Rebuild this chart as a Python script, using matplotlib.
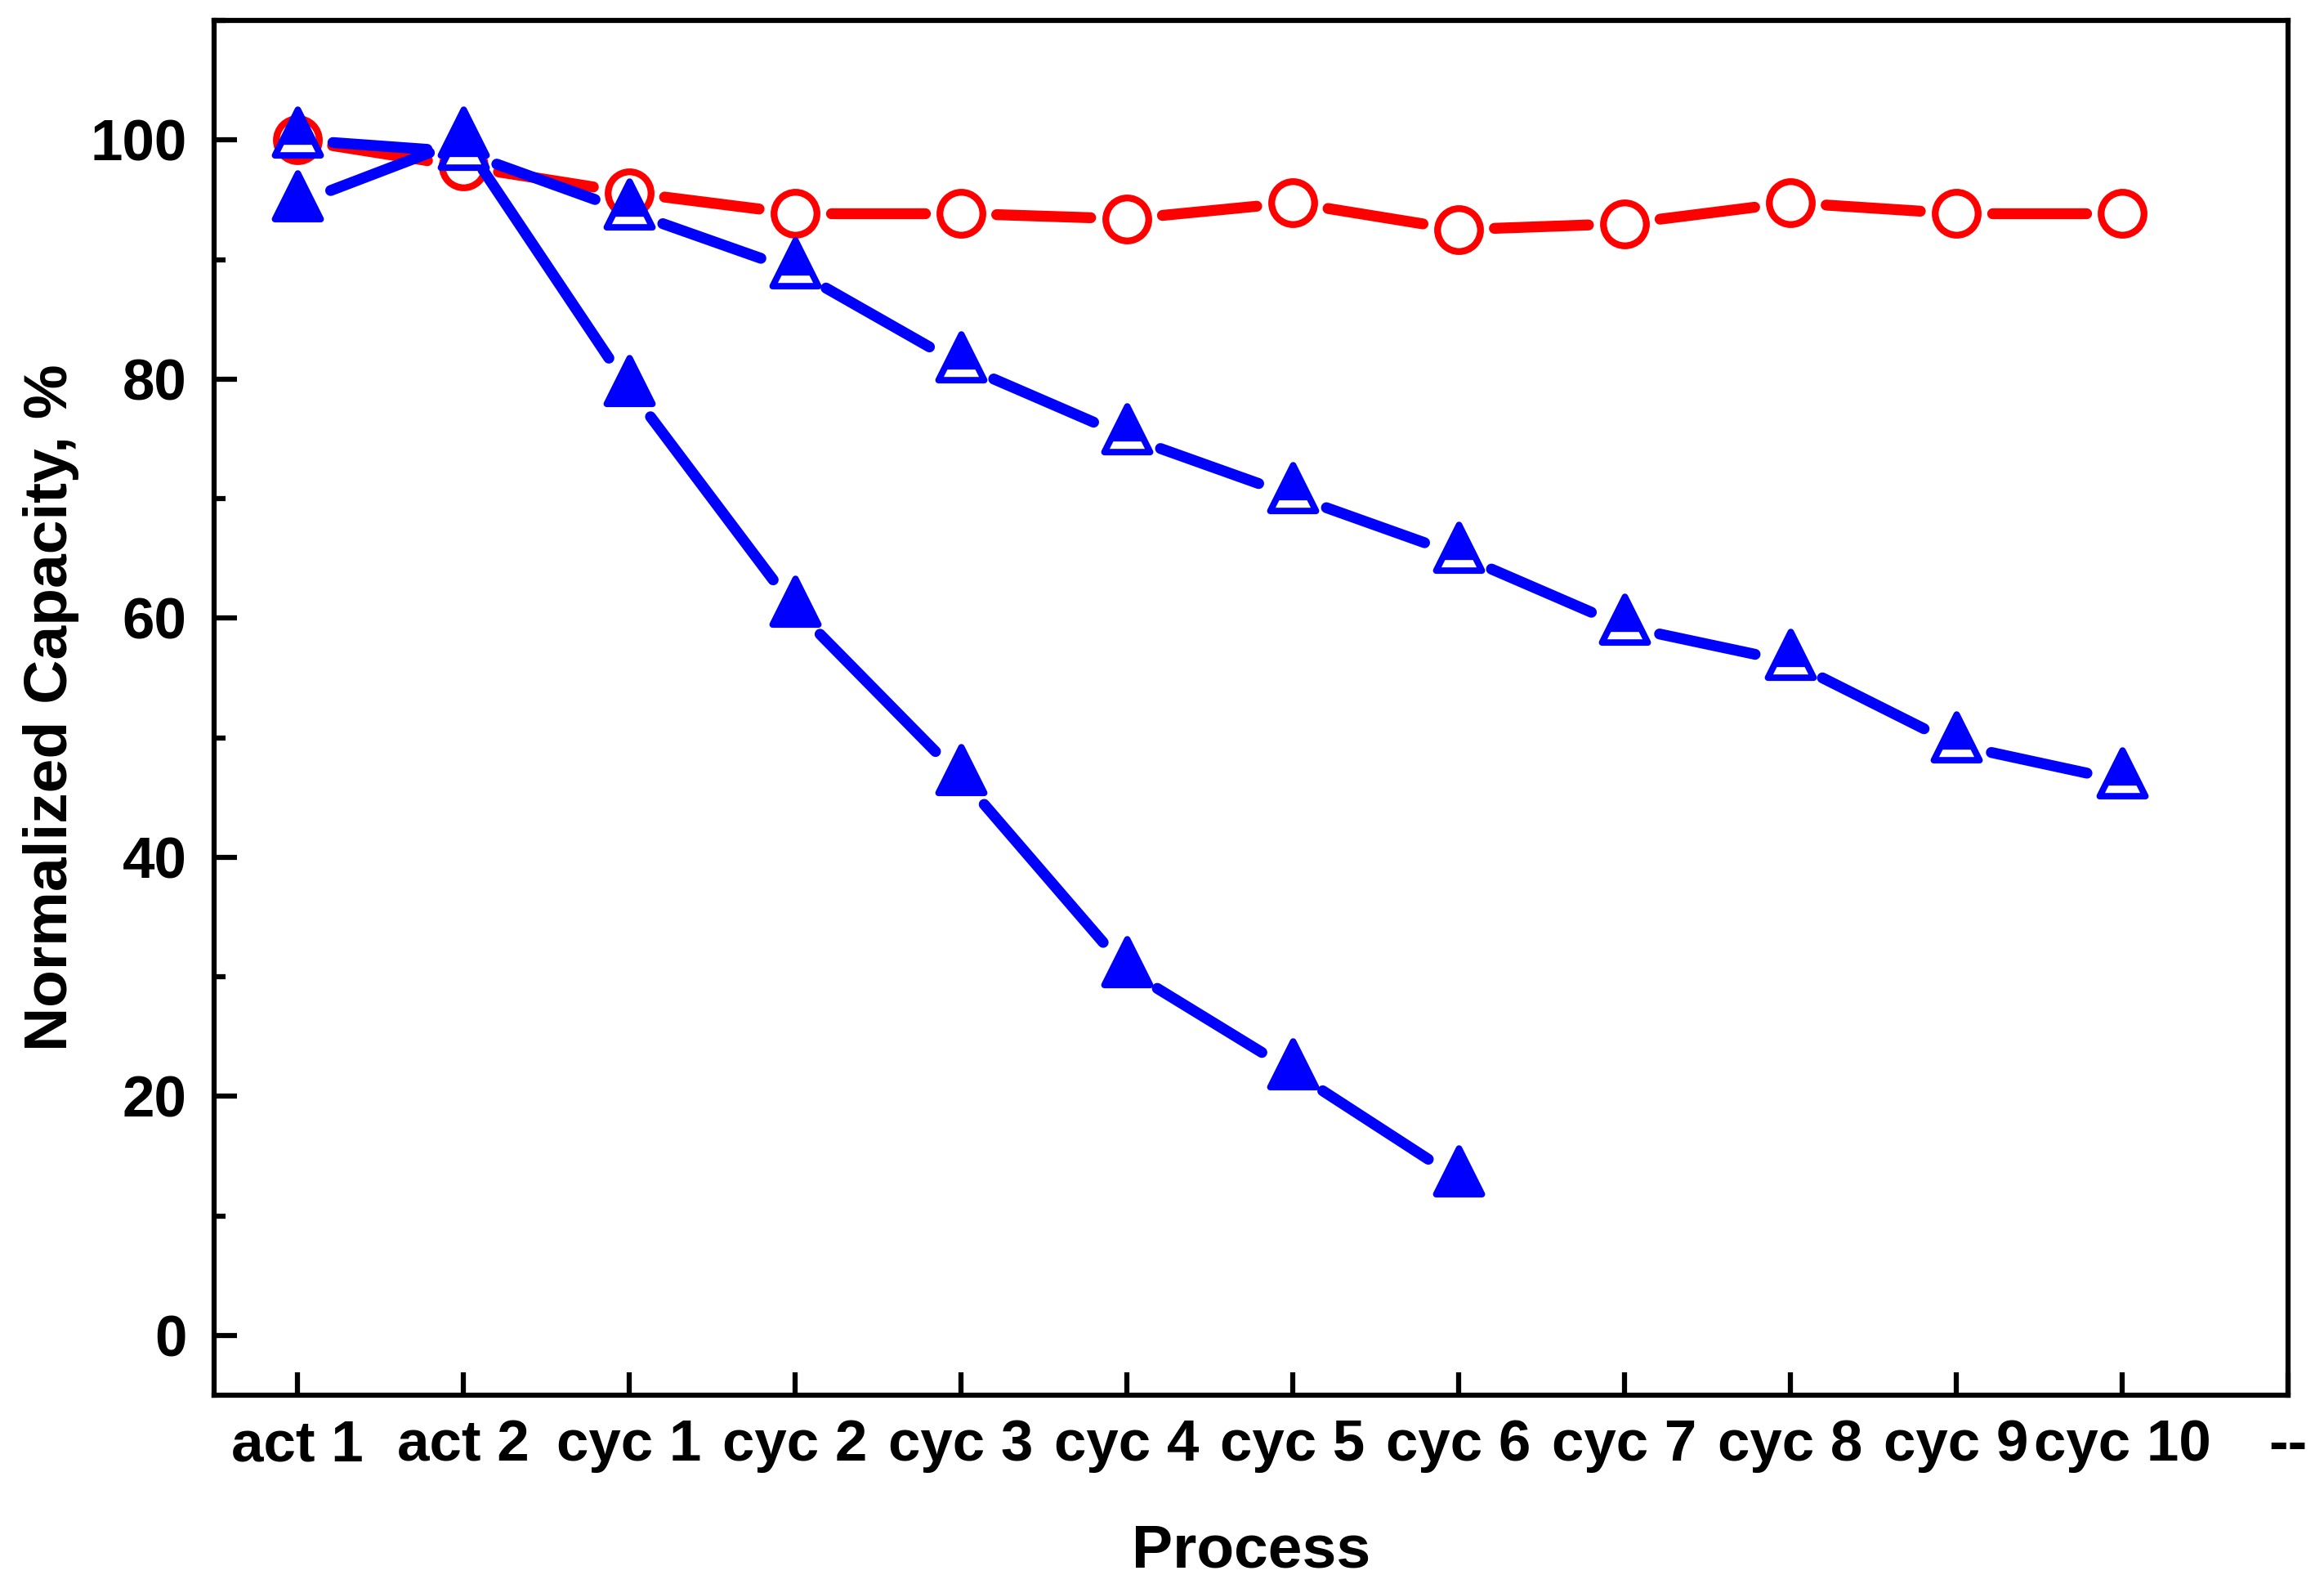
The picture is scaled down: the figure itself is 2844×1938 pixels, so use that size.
import numpy as np
import matplotlib
matplotlib.use("Agg")
import matplotlib.pyplot as plt
from matplotlib.path import Path
from matplotlib.markers import MarkerStyle
from matplotlib.ticker import MultipleLocator

plt.rcParams['font.family'] = ['Liberation Sans', 'DejaVu Sans']
plt.rcParams['font.weight'] = 'bold'

# ---------------- data ----------------
categories = ['act 1', 'act 2', 'cyc 1', 'cyc 2', 'cyc 3', 'cyc 4', 'cyc 5',
              'cyc 6', 'cyc 7', 'cyc 8', 'cyc 9', 'cyc 10', '--']
red_circle = [100, 97.8, 95.6, 93.85, 93.85, 93.4, 94.75, 92.5, 93.0, 94.75, 93.85, 93.85]
blue_half = [100, 99.0, 94.0, 89.1, 81.2, 75.2, 70.25, 65.3, 59.3, 56.35, 49.4, 46.4]
blue_full = [94.7, 100, 79.25, 60.8, 46.7, 30.6, 22.1, 13.1]

W, H, DPI = 2845, 1938, 300
fig = plt.figure(figsize=(W / DPI, H / DPI), dpi=DPI)
L, R, T, B = 262, 2800, 25, 1707
ax = fig.add_axes([L / W, 1 - B / H, (R - L) / W, (B - T) / H])
ax.set_xlim(-0.5, 12)
ax.set_ylim(-5, 110)

RED = '#FF0000'
BLUE = '#0000FF'
LW = 3.2
GAP_PX = 44


def gapped_line(xv, yv, color, z):
    tr = ax.transData
    pts = tr.transform(np.column_stack([xv, yv]))
    inv = tr.inverted()
    for p0, p1 in zip(pts[:-1], pts[1:]):
        v = p1 - p0
        ln = np.hypot(*v)
        if ln <= 2 * GAP_PX:
            continue
        u = v / ln
        a = inv.transform(p0 + u * GAP_PX)
        b = inv.transform(p1 - u * GAP_PX)
        ax.plot([a[0], b[0]], [a[1], b[1]], color=color, lw=LW,
                solid_capstyle='round', zorder=z)


# triangle marker centred at centroid
tri = Path([(0, 2 / 3), (-0.5, -1 / 3), (0.5, -1 / 3), (0, 2 / 3)],
           [Path.MOVETO, Path.LINETO, Path.LINETO, Path.CLOSEPOLY])
f = 0.753
top = Path([(0, 2 / 3), (-0.5 * f, 2 / 3 - f), (0.5 * f, 2 / 3 - f), (0, 2 / 3)],
           [Path.MOVETO, Path.LINETO, Path.LINETO, Path.CLOSEPOLY])
tri_m = MarkerStyle(tri, joinstyle='round')
top_m = MarkerStyle(top, joinstyle='round')
TMS = 17.9
TMEW = 1.9

x_red = np.arange(len(red_circle))
x_half = np.arange(len(blue_half))
x_full = np.arange(len(blue_full))

# red open circles
gapped_line(x_red, red_circle, RED, 2)
ax.plot(x_red, red_circle, ls='none', marker='o', ms=12.6, mew=2.0,
        mfc='white', mec=RED, zorder=3)

# blue filled triangles
gapped_line(x_full, blue_full, BLUE, 4)
ax.plot(x_full, blue_full, ls='none', marker=tri_m, ms=TMS, mew=TMEW,
        mfc=BLUE, mec=BLUE, zorder=5)

# blue half-filled triangles
gapped_line(x_half, blue_half, BLUE, 6)
ax.plot(x_half, blue_half, ls='none', marker=tri_m, ms=TMS, mew=TMEW,
        mfc='white', mec=BLUE, zorder=7)
ax.plot(x_half, blue_half, ls='none', marker=top_m, ms=TMS, mew=0.4,
        mfc=BLUE, mec=BLUE, zorder=8)

# axes styling
for s in ax.spines.values():
    s.set_linewidth(1.5)
ax.set_xticks(np.arange(len(categories)))
ax.set_xticklabels(categories)
ax.yaxis.set_major_locator(MultipleLocator(20))
ax.yaxis.set_minor_locator(MultipleLocator(10))
ax.set_yticks([0, 20, 40, 60, 80, 100])
ax.tick_params(axis='both', which='major', direction='in', length=6.8,
               width=1.5, labelsize=17, top=False, right=False)
ax.tick_params(axis='y', which='minor', direction='in', length=3.4,
               width=1.5, right=False)
ax.tick_params(axis='x', which='minor', bottom=False, top=False)
ax.tick_params(axis='y', which='major', pad=8)
ax.tick_params(axis='x', which='major', pad=7)
for lab in ax.get_xticklabels() + ax.get_yticklabels():
    lab.set_fontweight('bold')

fig.text((L + R) / 2 / W, 1 - 1917 / H, 'Process', ha='center', va='baseline',
         fontsize=18, fontweight='bold')
fig.text(63 / W, 1 - (T + B) / 2 / H, 'Normalized Capacity, %', rotation=90,
         ha='center', va='center', fontsize=18, fontweight='bold')

fig.savefig('out.png', dpi=DPI, facecolor='white')
